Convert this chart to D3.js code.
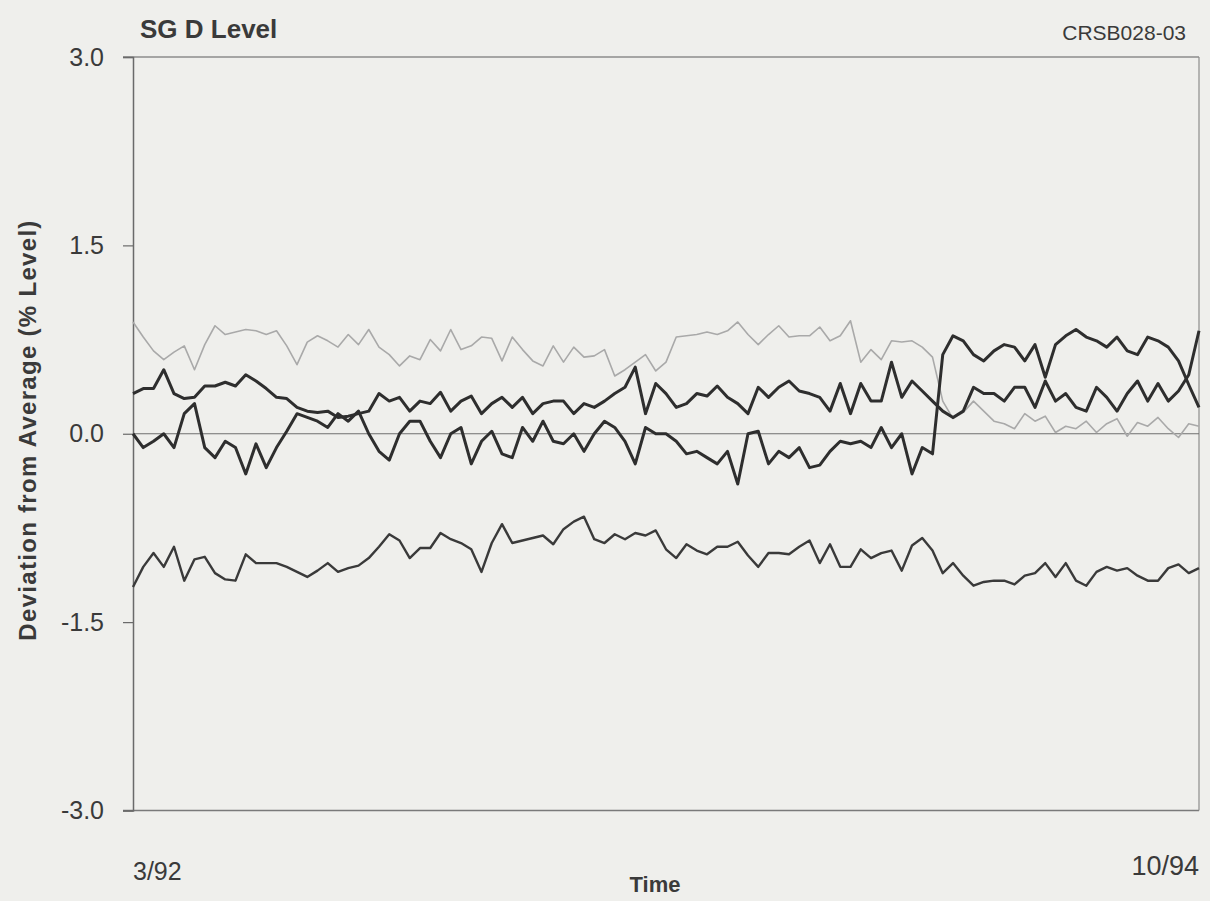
<!DOCTYPE html>
<html>
<head>
<meta charset="utf-8">
<script src="https://cdn.jsdelivr.net/npm/d3@7"></script>
<style>
  body { margin: 0; background: #efefec; }
  svg { display: block; }
  text { font-family: Arial, "Liberation Sans", sans-serif; fill: #3a3a3a; }
</style>
</head>
<body>
<div id="chart"></div>
<script>
// End labels of the time axis and y ticks
var timeLabels = ["3/92", "10/94"];
var yTicks = [-3.0, -1.5, 0.0, 1.5, 3.0];

// Deviation from average (% level) at even time steps
var lightSeries = [
  0.89,0.77,0.66,0.59,0.65,0.70,0.51,0.71,0.86,0.79,
  0.81,0.83,0.82,0.79,0.82,0.70,0.55,0.73,0.78,0.74,
  0.69,0.79,0.71,0.83,0.69,0.63,0.54,0.62,0.59,0.75,
  0.66,0.83,0.67,0.70,0.77,0.76,0.58,0.77,0.67,0.58,
  0.54,0.70,0.57,0.69,0.61,0.62,0.67,0.46,0.51,0.57,
  0.63,0.50,0.57,0.77,0.78,0.79,0.81,0.79,0.82,0.89,
  0.79,0.71,0.79,0.86,0.77,0.78,0.78,0.85,0.74,0.78,
  0.90,0.57,0.67,0.59,0.74,0.73,0.74,0.69,0.61,0.26,
  0.12,0.17,0.26,0.18,0.10,0.08,0.04,0.16,0.10,0.14,
  0.01,0.06,0.04,0.10,0.01,0.08,0.12,-0.02,0.09,0.06,
  0.13,0.04,-0.03,0.08,0.06
];

var seriesA = [
  0.32,0.36,0.36,0.51,0.32,0.28,0.29,0.38,0.38,0.41,
  0.38,0.47,0.42,0.36,0.29,0.28,0.21,0.18,0.17,0.18,
  0.13,0.14,0.16,0.18,0.32,0.26,0.29,0.18,0.26,0.24,
  0.33,0.18,0.26,0.30,0.16,0.24,0.29,0.21,0.29,0.16,
  0.24,0.26,0.26,0.16,0.24,0.21,0.26,0.32,0.37,0.53,
  0.16,0.40,0.32,0.21,0.24,0.32,0.30,0.38,0.29,0.24,
  0.16,0.37,0.29,0.37,0.42,0.34,0.32,0.29,0.18,0.40,
  0.16,0.40,0.26,0.26,0.57,0.29,0.42,0.34,0.26,0.18,
  0.13,0.18,0.37,0.32,0.32,0.26,0.37,0.37,0.21,0.42,
  0.26,0.32,0.21,0.18,0.37,0.29,0.18,0.32,0.42,0.26,
  0.40,0.26,0.34,0.47,0.82
];

var seriesB = [
  0.00,-0.11,-0.06,0.00,-0.11,0.16,0.24,-0.11,-0.19,-0.06,
  -0.11,-0.32,-0.08,-0.27,-0.11,0.02,0.16,0.13,0.10,0.05,
  0.16,0.10,0.18,0.00,-0.14,-0.21,0.00,0.10,0.10,-0.06,
  -0.19,0.00,0.05,-0.24,-0.06,0.02,-0.16,-0.19,0.05,-0.06,
  0.10,-0.06,-0.08,0.00,-0.14,0.00,0.10,0.05,-0.06,-0.24,
  0.05,0.00,0.00,-0.06,-0.16,-0.14,-0.19,-0.24,-0.14,-0.40,
  0.00,0.02,-0.24,-0.14,-0.19,-0.11,-0.27,-0.25,-0.14,-0.06,
  -0.08,-0.06,-0.11,0.05,-0.11,0.00,-0.32,-0.11,-0.16,0.63,
  0.78,0.74,0.63,0.58,0.66,0.71,0.69,0.58,0.71,0.45,
  0.71,0.78,0.83,0.77,0.74,0.69,0.77,0.66,0.63,0.77,
  0.74,0.69,0.58,0.39,0.21
];

var seriesC = [
  -1.22,-1.06,-0.95,-1.06,-0.90,-1.17,-1.00,-0.98,-1.11,-1.16,
  -1.17,-0.96,-1.03,-1.03,-1.03,-1.06,-1.10,-1.14,-1.09,-1.03,
  -1.10,-1.07,-1.05,-0.99,-0.90,-0.80,-0.85,-0.99,-0.91,-0.91,
  -0.79,-0.84,-0.87,-0.92,-1.10,-0.87,-0.72,-0.87,-0.85,-0.83,
  -0.81,-0.88,-0.76,-0.70,-0.66,-0.84,-0.87,-0.80,-0.84,-0.79,
  -0.81,-0.77,-0.92,-0.99,-0.88,-0.93,-0.96,-0.90,-0.90,-0.86,
  -0.97,-1.06,-0.95,-0.95,-0.96,-0.90,-0.85,-1.03,-0.88,-1.06,
  -1.06,-0.92,-0.99,-0.95,-0.93,-1.09,-0.89,-0.83,-0.93,-1.11,
  -1.03,-1.13,-1.21,-1.18,-1.17,-1.17,-1.20,-1.13,-1.11,-1.03,
  -1.14,-1.03,-1.17,-1.21,-1.10,-1.06,-1.09,-1.07,-1.13,-1.17,
  -1.17,-1.07,-1.04,-1.11,-1.07
];

// Set graph margins and dimensions
var margin = {top: 57, right: 10, bottom: 90, left: 133},
    width = 1210 - margin.left - margin.right,
    height = 901 - margin.top - margin.bottom;

var svg = d3.select("#chart").append("svg")
    .attr("width", 1210)
    .attr("height", 901);

svg.append("rect")
    .attr("width", 1210)
    .attr("height", 901)
    .attr("fill", "#efefec");

var g = svg.append("g")
    .attr("transform", "translate(" + margin.left + "," + margin.top + ")");

// Scales
var x = d3.scaleLinear()
    .domain([0, lightSeries.length - 1])
    .range([0, width - 1]);

var y = d3.scaleLinear()
    .domain([-3, 3])
    .range([height - 0.5, 0]);

// Frame: top, bottom and right borders
g.append("line")
    .attr("x1", -10).attr("x2", width - 1)
    .attr("y1", y(3)).attr("y2", y(3))
    .attr("stroke", "#8c8c8c").attr("stroke-width", 1.5);
g.append("line")
    .attr("x1", -10).attr("x2", width - 1)
    .attr("y1", y(-3)).attr("y2", y(-3))
    .attr("stroke", "#7a7a7a").attr("stroke-width", 1.5);
g.append("line")
    .attr("x1", width - 1).attr("x2", width - 1)
    .attr("y1", y(3)).attr("y2", y(-3))
    .attr("stroke", "#8c8c8c").attr("stroke-width", 1.2);

// Zero reference line
g.append("line")
    .attr("x1", 0).attr("x2", width - 1)
    .attr("y1", y(0)).attr("y2", y(0))
    .attr("stroke", "#6f6f6f").attr("stroke-width", 1.2);

// Y axis (plain hyphen for negatives, as in the original)
var yAxis = g.append("g")
    .call(d3.axisLeft(y)
      .tickValues(yTicks)
      .tickSize(10)
      .tickPadding(19)
      .tickFormat(function(d) { return d.toFixed(1); }));

yAxis.select(".domain").attr("stroke", "#6a6a6a").attr("stroke-width", 1.5);
yAxis.selectAll(".tick line").attr("stroke", "#6a6a6a").attr("stroke-width", 1.2);
yAxis.selectAll(".tick text")
    .style("font-family", "Arial, 'Liberation Sans', sans-serif")
    .style("font-size", "25px")
    .attr("fill", "#3c3c3c");

// Lines
var line = d3.line()
    .x(function(d, i) { return x(i); })
    .y(function(d) { return y(d); });

g.append("path")
    .datum(lightSeries)
    .attr("d", line)
    .attr("fill", "none")
    .attr("stroke", "#a9a9a9")
    .attr("stroke-width", 1.6)
    .attr("stroke-linejoin", "round");

g.append("path")
    .datum(seriesC)
    .attr("d", line)
    .attr("fill", "none")
    .attr("stroke", "#3a3a3a")
    .attr("stroke-width", 2.4)
    .attr("stroke-linejoin", "round");

g.append("path")
    .datum(seriesA)
    .attr("d", line)
    .attr("fill", "none")
    .attr("stroke", "#2e2e2e")
    .attr("stroke-width", 3)
    .attr("stroke-linejoin", "round");

g.append("path")
    .datum(seriesB)
    .attr("d", line)
    .attr("fill", "none")
    .attr("stroke", "#2e2e2e")
    .attr("stroke-width", 3)
    .attr("stroke-linejoin", "round");

// Time labels at both ends of the axis
g.append("text")
    .attr("x", x(0))
    .attr("y", height + 69)
    .style("font-size", "25px")
    .text(timeLabels[0]);

g.append("text")
    .attr("x", x(lightSeries.length - 1))
    .attr("y", height + 64)
    .attr("text-anchor", "end")
    .style("font-size", "27px")
    .text(timeLabels[1]);

// Axis titles
svg.append("text")
    .attr("x", 655)
    .attr("y", 892)
    .attr("text-anchor", "middle")
    .style("font-size", "22px")
    .style("font-weight", "bold")
    .text("Time");

svg.append("text")
    .attr("transform", "translate(36,430) rotate(-90)")
    .attr("text-anchor", "middle")
    .style("font-size", "24px")
    .style("font-weight", "bold")
    .style("letter-spacing", "1.3px")
    .text("Deviation from Average (% Level)");

// Chart title and id
svg.append("text")
    .attr("x", 140)
    .attr("y", 38)
    .style("font-size", "26px")
    .style("font-weight", "bold")
    .text("SG D Level");

svg.append("text")
    .attr("x", 1186)
    .attr("y", 40)
    .attr("text-anchor", "end")
    .style("font-size", "21px")
    .text("CRSB028-03");
</script>
</body>
</html>
